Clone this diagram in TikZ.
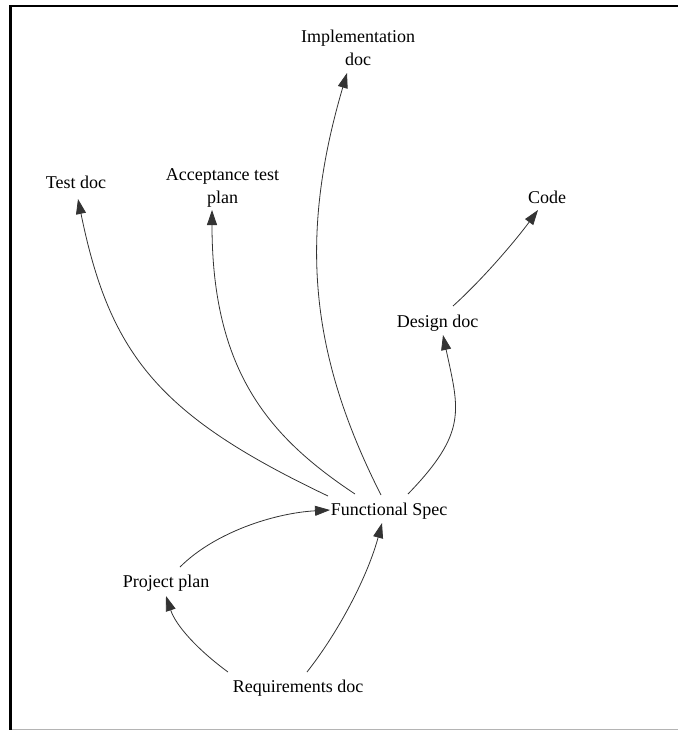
\documentclass[tikz,border=0pt]{standalone}
\usepackage{fontspec}
\setmainfont{Liberation Serif}
\usetikzlibrary{arrows.meta}
\definecolor{edgegray}{HTML}{333333}
\definecolor{framegray}{HTML}{B4B4B4}
\begin{document}
\begin{tikzpicture}[x=1pt,y=-1pt,
  doc/.style={inner sep=0pt,font=\fontsize{18}{23}\selectfont},
  twoline/.style={doc,align=center},
  dep/.style={draw=edgegray,line width=0.8pt,
    -{Triangle[length=15pt,width=10pt,fill=edgegray]}}]
\useasboundingbox (0,0) rectangle (678,730);
% frame
\draw[line width=2.6pt,line cap=butt] (10.5,730) -- (10.5,6.2) -- (678,6.2);
\draw[framegray,line width=1pt] (12,729.5) -- (678,729.5);

% documents
\node[doc,anchor=base]  (fs)     at (389,515)   {Functional Spec};
\node[doc,anchor=base]  (test)   at (76,188)    {Test doc};
\node[twoline]          (accept) at (222.5,187.5) {Acceptance test\\plan};
\node[twoline]          (impl)   at (358,47.5)  {Implementation\\doc};
\node[doc,anchor=base]  (code)   at (547,203)   {Code};
\node[doc,anchor=base]  (design) at (437.5,327) {Design doc};
\node[doc,anchor=base]  (pp)     at (166,587)   {Project plan};
\node[doc,anchor=base]  (req)    at (298,692)   {Requirements doc};

% dependencies
\draw[dep] ([shift={(-61,-19)}]fs.base) .. controls +(-168,-80) and +(32,157) .. ([shift={(2,11)}]test.base);
\draw[dep] ([shift={(-34,-21)}]fs.base) .. controls +(-86,-57) and +(0,161) .. ([shift={(-10.5,22.5)}]accept.center);
\draw[dep] ([shift={(-8,-20)}]fs.base) .. controls +(-72,-142) and +(-48,163) .. ([shift={(-11,25.5)}]impl.center);
\draw[dep] ([shift={(19,-21)}]fs.base) .. controls +(60,-62) and +(16,75) .. ([shift={(5.5,8)}]design.base);
\draw[dep] ([shift={(15.5,-21)}]design.base) .. controls +(30,-27) and +(-22,30) .. ([shift={(-9,7)}]code.base);
\draw[dep] ([shift={(14,-20)}]pp.base) .. controls +(35,-35) and +(-55,3) .. ([shift={(-59,-5)}]fs.base);
\draw[dep] ([shift={(-70,-20)}]req.base) .. controls +(-30,-22) and +(10,30) .. ([shift={(0,9)}]pp.base);
\draw[dep] ([shift={(9,-20)}]req.base) .. controls +(33,-42) and +(-14,52) .. ([shift={(-7,8)}]fs.base);
\end{tikzpicture}
\end{document}
